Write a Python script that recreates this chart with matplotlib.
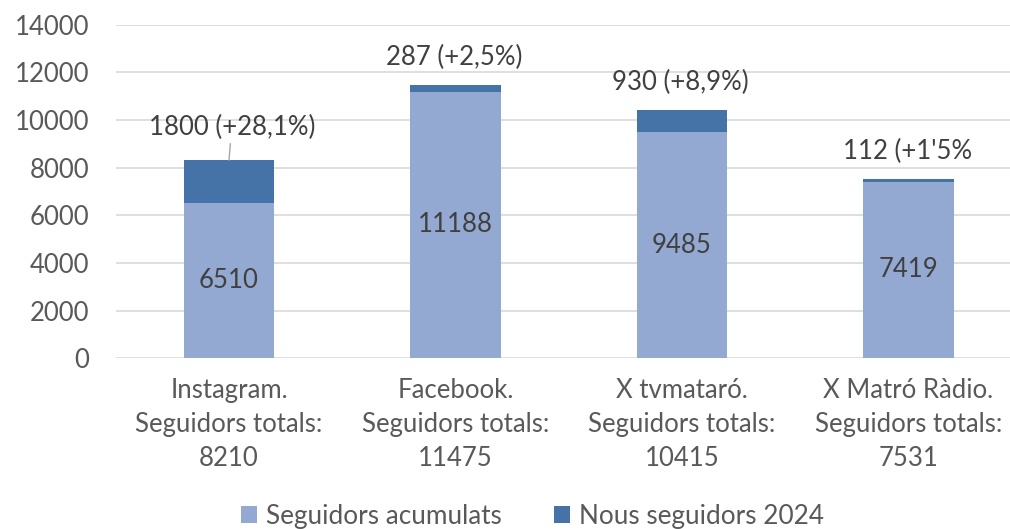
import matplotlib.pyplot as plt
import numpy as np

plt.rcParams['font.family'] = ['Lato', 'DejaVu Sans']

# Data
categories = ['Instagram.\nSeguidors totals:\n8210',
              'Facebook.\nSeguidors totals:\n11475',
              'X tvmataró.\nSeguidors totals:\n10415',
              'X Matró Ràdio.\nSeguidors totals:\n7531']
acumulats = [6510, 11188, 9485, 7419]
nous = [1800, 287, 930, 112]
nous_labels = ['1800 (+28,1%)', '287 (+2,5%)', '930 (+8,9%)', "112 (+1'5%"]

light = '#94A9D1'
dark = '#4572A7'
text_col = '#595959'
fs = 18.5

fig = plt.figure(figsize=(10.1, 5.29), dpi=100)
ax = fig.add_axes([0.1146, 0.323, 0.897, 0.630])

x = np.arange(len(categories))
ax.bar(x, acumulats, width=0.4, color=light, label='Seguidors acumulats', zorder=3)
ax.bar(x, nous, width=0.4, bottom=acumulats, color=dark, label='Nous seguidors 2024', zorder=3)

# values inside the light bars
for i, v in enumerate(acumulats):
    ax.text(i, v / 2, str(v), ha='center', va='center', fontsize=fs, color='#404040', zorder=4)

# labels above the dark segments
for i, (a, n, lab) in enumerate(zip(acumulats, nous, nous_labels)):
    top = a + n
    if i == 0:
        ax.annotate(lab, xy=(i, top), xytext=(2, 24), textcoords='offset points',
                    ha='center', va='center', fontsize=fs, color='#404040',
                    arrowprops=dict(arrowstyle='-', color='#A6A6A6', lw=1,
                                    shrinkA=1, shrinkB=0))
    else:
        ax.annotate(lab, xy=(i, top), xytext=(-1, 20), textcoords='offset points',
                    ha='center', va='center', fontsize=fs, color='#404040')

ax.set_ylim(0, 14000)
ax.set_yticks(range(0, 14001, 2000))
ax.set_xlim(-0.5, 3.5)
ax.set_xticks(x)
ax.set_xticklabels(categories, fontsize=fs, color=text_col, linespacing=1.45)
ax.tick_params(axis='y', labelsize=fs, labelcolor=text_col, length=0, pad=19)
ax.tick_params(axis='x', length=0, pad=14)
ax.grid(axis='y', color='#D9D9D9', linewidth=1.2, zorder=0)
for s in ax.spines.values():
    s.set_visible(False)

ax.legend(loc='center', bbox_to_anchor=(0.46, -0.475), ncol=2, frameon=False,
          fontsize=18.8, labelcolor=text_col, handlelength=0.6, handleheight=0.6,
          handletextpad=0.35, columnspacing=2.0)

fig.savefig('out.png', dpi=100)
